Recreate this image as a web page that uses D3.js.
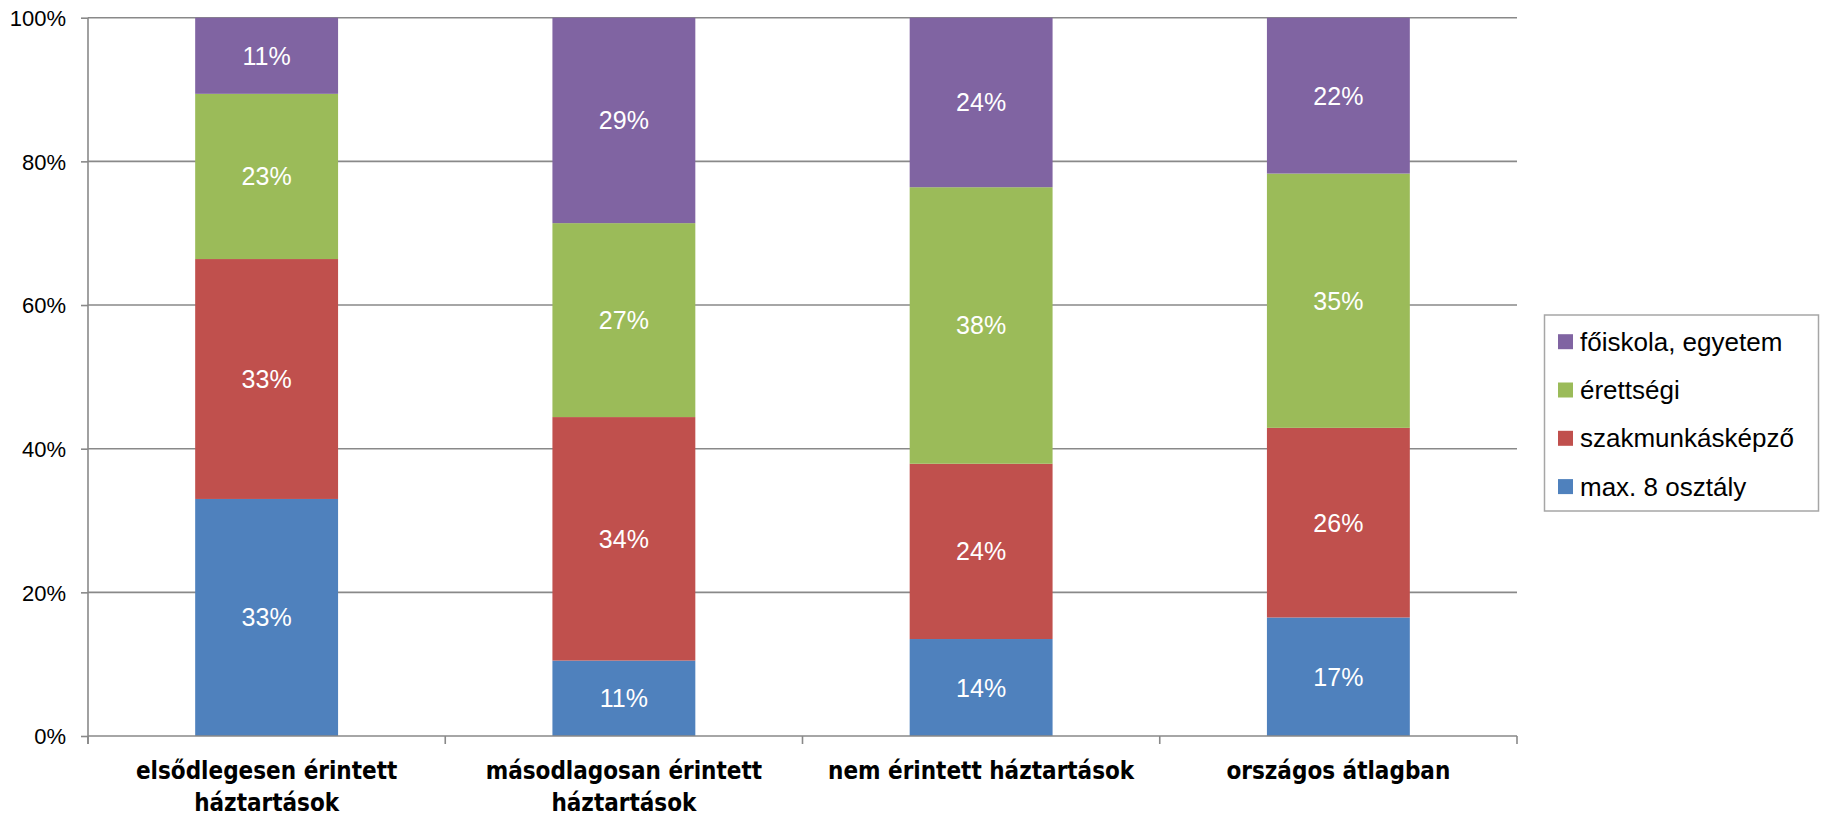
<!DOCTYPE html>
<html><head><meta charset="utf-8">
<script src="https://cdn.jsdelivr.net/npm/d3@7"></script>
<style>html,body{margin:0;padding:0;background:#fff;}svg{display:block;}
.cat{font-family:"DejaVu Sans Condensed","DejaVu Sans",sans-serif;font-stretch:condensed;font-weight:bold;}</style>
</head><body>
<svg id="chart" width="1825" height="818"></svg>
<script>
const categories = [["elsődlegesen érintett","háztartások"],["másodlagosan érintett","háztartások"],["nem érintett háztartások"],["országos átlagban"]];
const seriesNames = ["max. 8 osztály","szakmunkásképző","érettségi","főiskola, egyetem"];
const maxEight = [33.0, 10.5, 13.5, 16.5];
const szakmunkas = [33.4, 33.9, 24.4, 26.4];
const erettsegi = [23.0, 27.0, 38.5, 35.4];
const foiskola = [10.6, 28.6, 23.6, 21.7];
const labelsMax = ["33%","11%","14%","17%"];
const labelsSzak = ["33%","34%","24%","26%"];
const labelsErett = ["23%","27%","38%","35%"];
const labelsFo = ["11%","29%","24%","22%"];
const yTicks = [0,20,40,60,80,100];
const colors = ["#4F81BD","#C0504D","#9BBB59","#8064A2"];

const series = [maxEight, szakmunkas, erettsegi, foiskola];
const seriesLabels = [labelsMax, labelsSzak, labelsErett, labelsFo];
const catKeys = categories.map((c,i)=>i);

const svg = d3.select("#chart");
const x = d3.scaleBand().domain(catKeys).range([88,1517]).paddingInner(0.6).paddingOuter(0.3);
const y = d3.scaleLinear().domain([0,100]).range([736,17.7]);
const gridColor = "#898989";

svg.append("g").selectAll("line").data(yTicks.filter(t=>t>0)).join("line")
  .attr("x1",88).attr("x2",1517).attr("y1",d=>y(d)).attr("y2",d=>y(d))
  .attr("stroke",gridColor).attr("stroke-width",1.6);

const rows = catKeys.map(i=>{const o={i}; seriesNames.forEach((s,k)=>o[s]=series[k][i]); return o;});
const stack = d3.stack().keys(seriesNames)(rows);

const g = svg.append("g");
stack.forEach((layer,k)=>{
  g.append("g").selectAll("rect").data(layer).join("rect")
    .attr("x",d=>x(d.data.i)).attr("width",x.bandwidth())
    .attr("y",d=>y(d[1])).attr("height",d=>y(d[0])-y(d[1]))
    .attr("fill",colors[k]);
});
stack.forEach((layer,k)=>{
  g.append("g").selectAll("text").data(layer).join("text")
    .attr("x",d=>x(d.data.i)+x.bandwidth()/2)
    .attr("y",d=>(y(d[0])+y(d[1]))/2)
    .attr("text-anchor","middle").attr("dominant-baseline","central")
    .attr("fill","#fff").attr("font-family","Liberation Sans, Arial, sans-serif")
    .attr("font-size",25)
    .text(d=>seriesLabels[k][d.data.i]);
});

const yAxis = d3.axisLeft(y).tickValues(yTicks).tickSize(7).tickFormat(d=>d+"%");
const ya = svg.append("g").attr("transform","translate(88,0)").call(yAxis);
ya.select(".domain").attr("stroke",gridColor).attr("stroke-width",1.6).attr("d","M0,"+y(100)+"V744");
ya.selectAll(".tick line").attr("stroke",gridColor).attr("stroke-width",1.6);
ya.selectAll(".tick text").attr("font-family","Liberation Sans, Arial, sans-serif").attr("font-size",22).attr("fill","#000").attr("x",-22).attr("dy","0.35em");

const xa = svg.append("g").attr("transform","translate(0,736)");
xa.append("line").attr("x1",88).attr("x2",1517).attr("y1",0).attr("y2",0).attr("stroke",gridColor).attr("stroke-width",1.6);
const bounds = catKeys.map(i=>x(i)-x.step()*x.paddingOuter()).concat([1517]);
xa.selectAll("line.tk").data(bounds).join("line").attr("class","tk")
  .attr("x1",d=>d).attr("x2",d=>d).attr("y1",0).attr("y2",8).attr("stroke",gridColor).attr("stroke-width",1.6);
const lab = xa.selectAll("text.cat").data(catKeys).join("text").attr("class","cat")
  .attr("x",d=>x(d)+x.bandwidth()/2).attr("y",35)
  .attr("text-anchor","middle").attr("font-size",24).attr("fill","#000");
lab.each(function(d){
  const t = d3.select(this);
  categories[d].forEach((line,li)=>{
    t.append("tspan").attr("x",x(d)+x.bandwidth()/2).attr("dy",li===0?"0.35em":"1.3em").text(line);
  });
});

const leg = svg.append("g");
leg.append("rect").attr("x",1544.5).attr("y",315).attr("width",274).attr("height",196)
  .attr("fill","#fff").attr("stroke","#a6a6a6").attr("stroke-width",1.5);
const legOrder = [3,2,1,0];
leg.selectAll("g.it").data(legOrder).join("g").attr("class","it")
  .attr("transform",(d,i)=>`translate(1558,${341.7+i*48.3})`)
  .each(function(k){
    const it = d3.select(this);
    it.append("rect").attr("x",0).attr("y",-7.5).attr("width",15).attr("height",15).attr("fill",colors[k]);
    it.append("text").attr("x",22).attr("y",0).attr("dominant-baseline","central")
      .attr("font-family","Liberation Sans, Arial, sans-serif").attr("font-size",26).attr("fill","#000")
      .text(seriesNames[k]);
  });
</script>
</body></html>
